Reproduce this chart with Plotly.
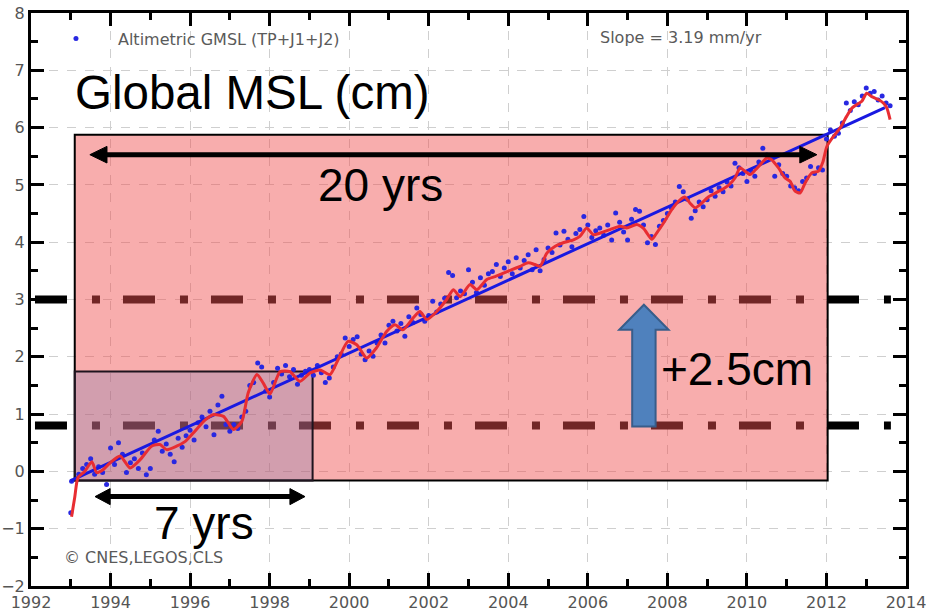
import plotly.graph_objects as go

# ---------------- data ----------------
# blue dots: altimetric GMSL (cm)
dot_years = [
    1993.0, 1993.02, 1993.2, 1993.3, 1993.4, 1993.5, 1993.6, 1993.7, 1993.8, 1993.9,
    1994.0, 1994.1, 1994.2, 1994.3, 1994.4, 1994.5, 1994.6, 1994.7, 1994.8, 1994.9,
    1995.0, 1995.1, 1995.2, 1995.3, 1995.4, 1995.5, 1995.6, 1995.7, 1995.8, 1995.9,
    1996.0, 1996.1, 1996.2, 1996.3, 1996.4, 1996.5, 1996.6, 1996.7, 1996.8, 1996.9,
    1997.0, 1997.1, 1997.2, 1997.3, 1997.4, 1997.5, 1997.6, 1997.7, 1997.8, 1997.9,
    1998.0, 1998.1, 1998.2, 1998.3, 1998.4, 1998.5, 1998.6, 1998.7, 1998.8, 1998.9,
    1999.0, 1999.1, 1999.2, 1999.3, 1999.4, 1999.5, 1999.6, 1999.7, 1999.8, 1999.9,
    2000.0, 2000.1, 2000.2, 2000.3, 2000.4, 2000.5, 2000.6, 2000.7, 2000.8, 2000.9,
    2001.0, 2001.1, 2001.2, 2001.3, 2001.4, 2001.5, 2001.6, 2001.7, 2001.8, 2001.9,
    2002.0, 2002.1, 2002.2, 2002.3, 2002.4, 2002.5, 2002.6, 2002.7, 2002.8, 2002.9,
    2003.0, 2003.1, 2003.2, 2003.3, 2003.4, 2003.5, 2003.6, 2003.7, 2003.8, 2003.9,
    2004.0, 2004.1, 2004.2, 2004.3, 2004.4, 2004.5, 2004.6, 2004.7, 2004.8, 2004.9,
    2005.0, 2005.1, 2005.2, 2005.3, 2005.4, 2005.5, 2005.6, 2005.7, 2005.8, 2005.9,
    2006.0, 2006.1, 2006.2, 2006.3, 2006.4, 2006.5, 2006.6, 2006.7, 2006.8, 2006.9,
    2007.0, 2007.1, 2007.2, 2007.3, 2007.4, 2007.5, 2007.6, 2007.7, 2007.8, 2007.9,
    2008.0, 2008.1, 2008.2, 2008.3, 2008.4, 2008.5, 2008.6, 2008.7, 2008.8, 2008.9,
    2009.0, 2009.1, 2009.2, 2009.3, 2009.4, 2009.5, 2009.6, 2009.7, 2009.8, 2009.9,
    2010.0, 2010.1, 2010.2, 2010.3, 2010.4, 2010.5, 2010.6, 2010.7, 2010.8, 2010.9,
    2011.0, 2011.1, 2011.2, 2011.3, 2011.4, 2011.5, 2011.6, 2011.7, 2011.8, 2011.9,
    2012.0, 2012.1, 2012.2, 2012.3, 2012.4, 2012.5, 2012.6, 2012.7, 2012.8, 2012.9,
    2013.0, 2013.1, 2013.2, 2013.3, 2013.4, 2013.5, 2013.6,
]
dot_vals = [
    -0.72, -0.17, -0.05, 0.05, 0.12, 0.22, -0.05, 0.08, -0.02, -0.23,
    0.41, 0.12, 0.50, 0.30, -0.02, 0.15, 0.22, 0.05, 0.32, -0.06,
    0.05, 0.55, 0.70, 0.35, 0.48, 0.30, 0.17, 0.58, 0.42, 0.62,
    0.72, 0.55, 0.85, 0.95, 0.78, 1.05, 0.64, 1.16, 1.31, 0.82,
    0.70, 0.82, 0.75, 0.95, 1.05, 1.50, 1.55, 1.89, 1.82, 1.40,
    1.30, 1.55, 1.80, 1.70, 1.85, 1.65, 1.78, 1.52, 1.68, 1.75,
    1.78, 1.68, 1.85, 1.72, 1.55, 1.63, 1.82, 2.00, 2.05, 2.33,
    2.18, 2.30, 2.35, 2.05, 1.95, 2.10, 2.01, 2.24, 2.38, 2.24,
    2.55, 2.62, 2.45, 2.58, 2.36, 2.70, 2.60, 2.85, 2.74, 2.62,
    2.72, 2.97, 2.78, 2.92, 3.02, 3.47, 3.42, 3.03, 3.15, 3.10,
    3.52, 3.30, 3.12, 3.38, 3.25, 3.45, 3.49, 3.61, 3.40, 3.55,
    3.66, 3.45, 3.73, 3.55, 3.68, 3.78, 3.52, 3.87, 3.50, 3.70,
    3.90, 3.82, 4.16, 3.95, 4.19, 4.05, 3.92, 4.15, 4.22, 4.45,
    4.30, 4.08, 4.20, 4.25, 4.12, 4.30, 4.04, 4.51, 4.35, 4.18,
    4.04, 4.40, 4.57, 4.54, 4.30, 3.99, 4.10, 3.96, 4.28, 4.38,
    4.50, 4.60, 4.70, 4.97, 4.88, 4.75, 4.42, 4.55, 4.70, 4.62,
    4.74, 4.90, 4.80, 4.95, 4.88, 5.05, 4.98, 5.38, 5.30, 5.20,
    5.06, 5.25, 5.15, 5.40, 5.64, 5.52, 5.48, 5.15, 5.35, 5.20,
    5.15, 4.98, 4.95, 4.90, 5.06, 5.12, 5.32, 5.20, 5.30, 5.26,
    5.80, 5.96, 5.85, 5.90, 6.08, 6.43, 6.30, 6.45, 6.40, 6.55,
    6.69, 6.60, 6.63, 6.48, 6.55, 6.43, 6.38,
]

# red: smoothed GMSL (cm)
smooth_years = [
    1993.02, 1993.10, 1993.18, 1993.35, 1993.53, 1993.65, 1993.81, 1993.99, 1994.24, 1994.49,
    1994.74, 1995.03, 1995.24, 1995.41, 1995.66, 1995.87, 1996.08, 1996.38, 1996.58, 1996.84,
    1997.09, 1997.30, 1997.46, 1997.68, 1997.84, 1998.01, 1998.26, 1998.51, 1998.76, 1999.02,
    1999.27, 1999.52, 1999.72, 1999.97, 2000.19, 2000.44, 2000.69, 2000.94, 2001.15, 2001.35,
    2001.61, 2001.78, 2001.95, 2002.20, 2002.45, 2002.62, 2002.79, 2003.04, 2003.21, 2003.46,
    2003.67, 2003.88, 2004.09, 2004.30, 2004.50, 2004.67, 2004.80, 2004.97, 2005.18, 2005.38,
    2005.64, 2005.80, 2005.97, 2006.14, 2006.31, 2006.56, 2006.81, 2006.98, 2007.23, 2007.40,
    2007.61, 2007.73, 2007.90, 2008.11, 2008.32, 2008.44, 2008.57, 2008.70, 2008.86, 2009.03,
    2009.24, 2009.45, 2009.58, 2009.70, 2009.83, 2009.95, 2010.08, 2010.21, 2010.37, 2010.50,
    2010.62, 2010.79, 2010.96, 2011.09, 2011.21, 2011.34, 2011.46, 2011.63, 2011.80, 2011.91,
    2012.01, 2012.18, 2012.34, 2012.51, 2012.64, 2012.76, 2012.89, 2013.01, 2013.14, 2013.30,
    2013.43, 2013.52, 2013.60,
]
smooth_vals = [
    -0.79, -0.45, -0.11, 0.00, 0.17, -0.02, 0.03, 0.15, 0.27, 0.06,
    0.20, 0.44, 0.47, 0.38, 0.44, 0.52, 0.67, 0.90, 0.99, 0.96,
    0.73, 0.87, 1.37, 1.69, 1.54, 1.35, 1.74, 1.74, 1.57, 1.72,
    1.77, 1.69, 1.95, 2.27, 2.21, 1.98, 2.16, 2.44, 2.56, 2.47,
    2.68, 2.79, 2.65, 2.79, 3.00, 3.17, 3.05, 3.26, 3.17, 3.35,
    3.40, 3.46, 3.52, 3.58, 3.64, 3.61, 3.58, 3.81, 3.93, 3.99,
    4.04, 4.10, 4.25, 4.13, 4.16, 4.22, 4.28, 4.25, 4.31, 4.24,
    4.05, 4.16, 4.33, 4.57, 4.74, 4.79, 4.68, 4.60, 4.68, 4.79,
    4.87, 4.95, 5.02, 5.12, 5.30, 5.24, 5.18, 5.26, 5.38, 5.47,
    5.44, 5.30, 5.12, 5.06, 4.89, 4.86, 5.03, 5.21, 5.24, 5.40,
    5.67, 5.85, 5.99, 6.20, 6.34, 6.40, 6.46, 6.60, 6.54, 6.49,
    6.43, 6.34, 6.14,
]

# linear trend (3.19 mm/yr)
trend_years = [1993.0, 2013.47]
trend_vals = [-0.16, 6.35]

# annotation boxes / levels
big_box_years = [1993.1, 2012.03]
small_box_years = [1993.1, 1999.08]
box_bottom = -0.157
big_box_top = 5.876
small_box_top = 1.745
level_vals = [3.0, 0.8]
level_years = [1992.1, 2013.62]

x_ticks = [1992, 1994, 1996, 1998, 2000, 2002, 2004, 2006, 2008, 2010, 2012, 2014]
y_ticks = [-2, -1, 0, 1, 2, 3, 4, 5, 6, 7, 8]

# ---------------- figure ----------------
fig = go.Figure()

fig.add_trace(go.Scatter(
    x=dot_years, y=dot_vals, mode="markers", name="Altimetric GMSL (TP+J1+J2)",
    marker=dict(color="rgb(40,40,225)", size=5, line=dict(width=0)),
    showlegend=True,
))
fig.add_trace(go.Scatter(
    x=trend_years, y=trend_vals, mode="lines",
    line=dict(color="rgb(25,25,225)", width=3), showlegend=False,
))
fig.add_trace(go.Scatter(
    x=smooth_years, y=smooth_vals, mode="lines",
    line=dict(color="rgb(232,45,50)", width=3, shape="spline", smoothing=0.6),
    showlegend=False,
))

shapes = []
# dash-dot levels (under the boxes, above the grid)
for lv in level_vals:
    shapes.append(dict(type="line", layer="between", xref="x", yref="y",
                       x0=level_years[0], x1=level_years[1], y0=lv, y1=lv,
                       line=dict(color="black", width=8, dash="32px,25px,8px,23px")))
# big pink box
shapes.append(dict(type="rect", layer="between", xref="x", yref="y",
                   x0=big_box_years[0], x1=big_box_years[1], y0=box_bottom, y1=big_box_top,
                   fillcolor="rgba(240,80,80,0.47)", line=dict(color="black", width=2)))
# small box
shapes.append(dict(type="rect", layer="between", xref="x", yref="y",
                   x0=small_box_years[0], x1=small_box_years[1], y0=box_bottom, y1=small_box_top,
                   fillcolor="rgba(110,120,175,0.28)", line=dict(color="rgb(30,20,30)", width=2)))


def dbl_arrow(xa, xb, y, hl, hw):
    out = [dict(type="line", layer="above", xref="x", yref="y",
                x0=xa + hl * 0.8, x1=xb - hl * 0.8, y0=y, y1=y,
                line=dict(color="black", width=5))]
    out.append(dict(type="path", layer="above", xref="x", yref="y",
                    path=f"M {xa},{y} L {xa + hl},{y + hw} L {xa + hl},{y - hw} Z",
                    fillcolor="black", line=dict(color="black", width=1)))
    out.append(dict(type="path", layer="above", xref="x", yref="y",
                    path=f"M {xb},{y} L {xb - hl},{y + hw} L {xb - hl},{y - hw} Z",
                    fillcolor="black", line=dict(color="black", width=1)))
    return out


shapes += dbl_arrow(1993.48, 2011.76, 5.527, 0.43, 0.145)
shapes += dbl_arrow(1993.61, 1998.89, -0.44, 0.38, 0.14)

# blue block arrow
xc, hs, hh = 2007.41, 0.294, 0.62
yt, yh, yb = 2.909, 2.473, 0.785
shapes.append(dict(type="path", layer="above", xref="x", yref="y",
                   path=(f"M {xc - hs},{yb} L {xc - hs},{yh} L {xc - hh},{yh} L {xc},{yt} "
                         f"L {xc + hh},{yh} L {xc + hs},{yh} L {xc + hs},{yb} Z"),
                   fillcolor="#4F81BD", line=dict(color="#385D8A", width=2)))

big_font = dict(family="Liberation Sans, Arial, sans-serif", size=46, color="black")
small_font = dict(family="DejaVu Sans, sans-serif", size=16, color="#5a5a5a")

annotations = [
    dict(text="Global MSL (cm)", x=1993.06, y=6.61, xanchor="left", yanchor="middle",
         showarrow=False, font=dict(big_font, size=47.5)),
    dict(text="20 yrs", x=2000.78, y=5.0, xanchor="center", yanchor="middle",
         showarrow=False, font=big_font),
    dict(text="7 yrs", x=1996.35, y=-0.9, xanchor="center", yanchor="middle",
         showarrow=False, font=big_font),
    dict(text="+2.5cm", x=2009.75, y=1.78, xanchor="center", yanchor="middle",
         showarrow=False, font=big_font),
    dict(text="Slope = 3.19 mm/yr", x=2006.26, y=7.57, xanchor="left", yanchor="middle",
         showarrow=False, font=small_font),
    dict(text="© CNES,LEGOS,CLS", x=1992.78, y=-1.5, xanchor="left", yanchor="middle",
         showarrow=False, font=small_font),
]

axis_common = dict(
    showline=True, linecolor="black", linewidth=3, mirror="allticks",
    ticks="inside", ticklen=13, tickwidth=3, tickcolor="black",
    showgrid=True, gridcolor="#cfcfcf", griddash="dash", gridwidth=1,
    zeroline=False, automargin=False, ticklabeloverflow="allow",
    tickfont=dict(family="DejaVu Sans, sans-serif", size=16, color="#555555"),
)

fig.update_layout(
    width=926, height=614,
    margin=dict(l=31, r=20, t=13, b=28),
    paper_bgcolor="white", plot_bgcolor="white",
    shapes=shapes, annotations=annotations,
    legend=dict(x=0.0034, y=0.985, xanchor="left", yanchor="top",
                bgcolor="rgba(0,0,0,0)", font=small_font, itemwidth=74),
    xaxis=dict(range=[1992, 2014], tickvals=x_ticks,
               minor=dict(dtick=1, tick0=1992, ticks="inside", ticklen=7,
                          tickwidth=3, tickcolor="black", showgrid=False),
               **axis_common),
    yaxis=dict(range=[-2, 8], tickvals=y_ticks,
               minor=dict(dtick=0.5, tick0=0, ticks="inside", ticklen=7,
                          tickwidth=3, tickcolor="black", showgrid=False),
               **axis_common),
)

fig.write_html("out.html", config={"displayModeBar": False},
               post_script="document.body.style.margin='0';")
